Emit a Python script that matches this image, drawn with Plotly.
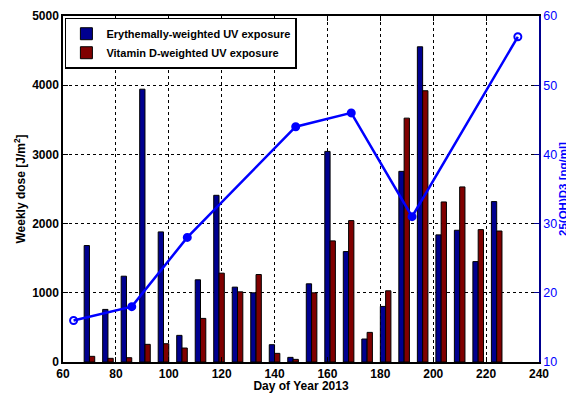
import plotly.graph_objects as go

# Weekly data (day of year 2013)
days = [70, 77, 84, 91, 98, 105, 112, 119, 126, 133, 140, 147, 154, 161, 168, 175, 182, 189, 196, 203, 210, 217, 224]
erythemal = [1683, 760, 1240, 3942, 1880, 385, 1188, 2409, 1082, 1000, 250, 67, 1130, 3043, 1596, 332, 803, 2755, 4555, 1837, 1904, 1451, 2318]
vitamin_d = [82, 53, 62, 255, 264, 202, 630, 1284, 1014, 1264, 125, 38, 1000, 1750, 2043, 428, 1029, 3524, 3920, 2313, 2530, 1913, 1893]

# Serum 25(OH)D3 measurements
serum_days = [64, 86, 107, 148, 169, 192, 232]
serum_vals = [16, 18, 28, 44, 46, 31, 57]

x_ticks = [60, 80, 100, 120, 140, 160, 180, 200, 220, 240]
y_ticks = [0, 1000, 2000, 3000, 4000, 5000]
y2_ticks = [10, 20, 30, 40, 50, 60]

FONT = "Liberation Sans, Arial, Helvetica, sans-serif"

fig = go.Figure()
fig.add_trace(go.Bar(
    x=days, y=erythemal, name="Erythemally-weighted UV exposure",
    width=2, offset=-2,
    marker=dict(color="#00008F", line=dict(color="black", width=1)),
))
fig.add_trace(go.Bar(
    x=days, y=vitamin_d, name="Vitamin D-weighted UV exposure",
    width=2, offset=0,
    marker=dict(color="#800000", line=dict(color="black", width=1)),
))
symbols = ["circle-open"] + ["circle"] * (len(serum_days) - 2) + ["circle-open"]
fig.add_trace(go.Scatter(
    x=serum_days, y=serum_vals, yaxis="y2", mode="lines+markers",
    line=dict(color="#0000FF", width=2.5),
    marker=dict(symbol=symbols, size=7, color="#0000FF", line=dict(color="#0000FF", width=2)),
    showlegend=False,
))

# page body has an 8px default margin, so the figure is sized 8px smaller
fig.update_layout(
    width=566, height=385,
    margin=dict(l=55, r=35, t=8, b=31, autoexpand=False),
    paper_bgcolor="white", plot_bgcolor="white",
    font=dict(family=FONT, color="black"),
    barmode="overlay",
    showlegend=True,
    legend=dict(
        x=0.004, y=0.995, xanchor="left", yanchor="top",
        bgcolor="white", bordercolor="black", borderwidth=1.5,
        font=dict(family=FONT, size=11, weight="bold", color="black"),
        tracegroupgap=0, itemwidth=30,
    ),
    xaxis=dict(
        range=[60, 240], tickvals=x_ticks, automargin=False,
        showline=True, linecolor="black", linewidth=1.5, mirror="ticks",
        ticks="inside", ticklen=5, tickcolor="black",
        tickfont=dict(size=12, weight="bold", color="black"),
        showgrid=True, gridcolor="black", griddash="dot", gridwidth=1,
        zeroline=False,
        title=dict(text="Day of Year 2013", standoff=3,
                   font=dict(size=12, weight="bold", color="black")),
    ),
    yaxis=dict(
        range=[0, 5000], tickvals=y_ticks, automargin=False,
        showline=True, linecolor="black", linewidth=1.5,
        ticks="inside", ticklen=5, tickcolor="black",
        tickfont=dict(size=12, weight="bold", color="black"),
        showgrid=True, gridcolor="black", griddash="dot", gridwidth=1,
        zeroline=False,
        title=dict(text="Weekly dose [J/m<sup>2</sup>]", standoff=4,
                   font=dict(size=12, weight="bold", color="black")),
    ),
    yaxis2=dict(
        range=[10, 60], tickvals=y2_ticks, overlaying="y", side="right", automargin=False,
        showline=True, linecolor="#00008F", linewidth=1.5,
        ticks="inside", ticklen=5, tickcolor="#00008F",
        tickfont=dict(size=12.5, color="#0000FF"),
        showgrid=False, zeroline=False,
        title=dict(text="25(OH)D3 [ng/ml]", standoff=0,
                   font=dict(size=11.5, weight="bold", color="#0000FF")),
    ),
)

fig.write_html("out.html")
